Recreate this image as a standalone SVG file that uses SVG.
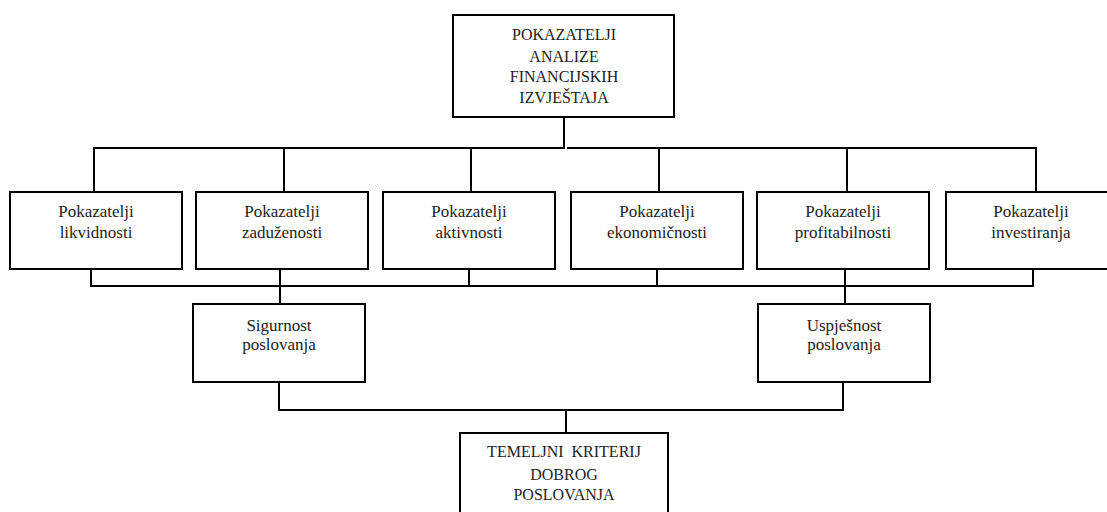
<svg xmlns="http://www.w3.org/2000/svg" width="1107" height="512" viewBox="0 0 1107 512">
<style>
.box{fill:#fff;stroke:#000;stroke-width:2}
.ln{fill:none;stroke:#000;stroke-width:2}
text{font-family:'Liberation Serif','DejaVu Serif',serif;fill:#222;text-anchor:middle}
.cap{font-size:16px}
.low{font-size:17px}
</style>
<rect width="1107" height="512" fill="#fff"/>
<g id="connectors">
<path class="ln" d="M564 117V148H94V192M567 148H1036V192M284 148V192M471 148V192M659 148V192M847 148V192"/>
<path class="ln" d="M91 269V286H1033V269M280 269V304M469 269V286M657 269V286M845 269V304"/>
<path class="ln" d="M279 382V410H843V382M566 410V433"/>
</g>
<g id="n-top"><rect class="box" x="453" y="15" width="221" height="102"/>
<text class="cap" x="564" y="40">POKAZATELJI</text><text class="cap" x="564" y="62">ANALIZE</text><text class="cap" x="564" y="82">FINANCIJSKIH</text><text class="cap" x="564" y="103">IZVJEŠTAJA</text></g>
<g id="n-likv"><rect class="box" x="10" y="192" width="172" height="77"/><text class="low" x="96" y="217">Pokazatelji</text><text class="low" x="96" y="238">likvidnosti</text></g>
<g id="n-zad"><rect class="box" x="196" y="192" width="172" height="77"/><text class="low" x="282" y="217">Pokazatelji</text><text class="low" x="282" y="238">zaduženosti</text></g>
<g id="n-akt"><rect class="box" x="383" y="192" width="172" height="77"/><text class="low" x="469" y="217">Pokazatelji</text><text class="low" x="469" y="238">aktivnosti</text></g>
<g id="n-eko"><rect class="box" x="571" y="192" width="172" height="77"/><text class="low" x="657" y="217">Pokazatelji</text><text class="low" x="657" y="238">ekonomičnosti</text></g>
<g id="n-prof"><rect class="box" x="757" y="192" width="172" height="77"/><text class="low" x="843" y="217">Pokazatelji</text><text class="low" x="843" y="238">profitabilnosti</text></g>
<g id="n-inv"><rect class="box" x="946" y="192" width="172" height="77"/><text class="low" x="1031" y="217">Pokazatelji</text><text class="low" x="1031" y="238">investiranja</text></g>
<g id="n-sig"><rect class="box" x="193" y="304" width="172" height="78"/><text class="low" x="279" y="331">Sigurnost</text><text class="low" x="279" y="350">poslovanja</text></g>
<g id="n-usp"><rect class="box" x="758" y="304" width="172" height="78"/><text class="low" x="844" y="331">Uspješnost</text><text class="low" x="844" y="350">poslovanja</text></g>
<g id="n-tem"><rect class="box" x="460" y="433" width="208" height="90"/>
<text class="cap" x="564" y="457" xml:space="preserve">TEMELJNI  KRITERIJ</text><text class="cap" x="564" y="480">DOBROG</text><text class="cap" x="564" y="500">POSLOVANJA</text></g>
</svg>
